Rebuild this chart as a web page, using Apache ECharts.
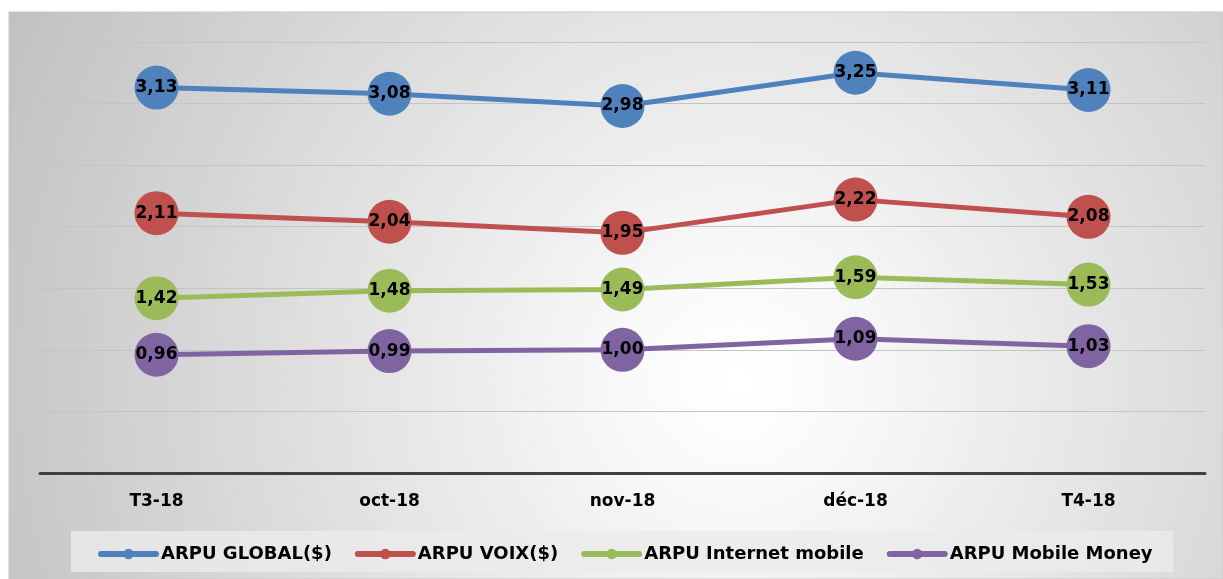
<!DOCTYPE html>
<html><head><meta charset="utf-8">
<script src="https://cdn.jsdelivr.net/npm/echarts@6/dist/echarts.min.js"></script>
<style>html,body{margin:0;padding:0;background:#fff}#c{width:1223px;height:579px}</style>
</head><body><div id="c"></div>
<script>
const categories = ['T3-18','oct-18','nov-18','déc-18','T4-18'];
const seriesNames = ['ARPU GLOBAL($)','ARPU VOIX($)','ARPU Internet mobile','ARPU Mobile Money'];
const arpuGlobal = [3.13,3.08,2.98,3.25,3.11];
const arpuVoix = [2.11,2.04,1.95,2.22,2.08];
const arpuInternet = [1.42,1.48,1.49,1.59,1.53];
const arpuMoney = [0.96,0.99,1.00,1.09,1.03];
const colors = ['#4F81BD','#C0504D','#9BBB59','#8064A2'];
const font = 'DejaVu Sans';
const chart = echarts.init(document.getElementById('c'));
const mk = (name, data, color) => ({
  name, type:'line', data, color,
  symbol:'circle', symbolSize:44,
  lineStyle:{width:5, color},
  itemStyle:{color},
  label:{show:true, position:'inside', color:'#000', fontWeight:'bold', fontSize:17, fontFamily:font,
    formatter: p => p.value.toFixed(2).replace('.',',')},
  emphasis:{disabled:true}
});
chart.setOption({
  animation:false,
  graphic:[{type:'rect', z:-10, silent:true, shape:{x:9,y:12,width:1214,height:567},
    style:{fill:{type:'radial', x:0.6, y:0.65, r:1.45, colorStops:[{offset:0,color:'#ffffff'},{offset:0.12,color:'#fafafa'},{offset:1,color:'#c0c0c0'}]},
      stroke:'#c8c8c8', lineWidth:1}},
    {type:'rect', z:-5, silent:true, shape:{x:71,y:531,width:1102,height:41}, style:{fill:'rgba(235,235,235,0.8)'}}],
  grid:{left:40, right:18, top:42, bottom:106},
  xAxis:{type:'category', data:categories, boundaryGap:true,
    axisLine:{lineStyle:{color:'#404040', width:3}}, axisTick:{show:false},
    axisLabel:{color:'#000', fontWeight:'bold', fontSize:17, fontFamily:font, margin:20}},
  yAxis:{type:'value', min:0, max:3.5, interval:0.5,
    axisLabel:{show:false}, axisLine:{show:false}, axisTick:{show:false},
    splitLine:{lineStyle:{color:'#c4c4c4', width:1}}},
  legend:{data:seriesNames, bottom:11, left:93, itemWidth:55, itemHeight:13, itemGap:23,
    lineStyle:{width:6, cap:'round'},
    textStyle:{color:'#000', fontWeight:'bold', fontSize:18, fontFamily:font}},
  series:[mk(seriesNames[0],arpuGlobal,colors[0]), mk(seriesNames[1],arpuVoix,colors[1]),
    mk(seriesNames[2],arpuInternet,colors[2]), mk(seriesNames[3],arpuMoney,colors[3])]
});
</script></body></html>
